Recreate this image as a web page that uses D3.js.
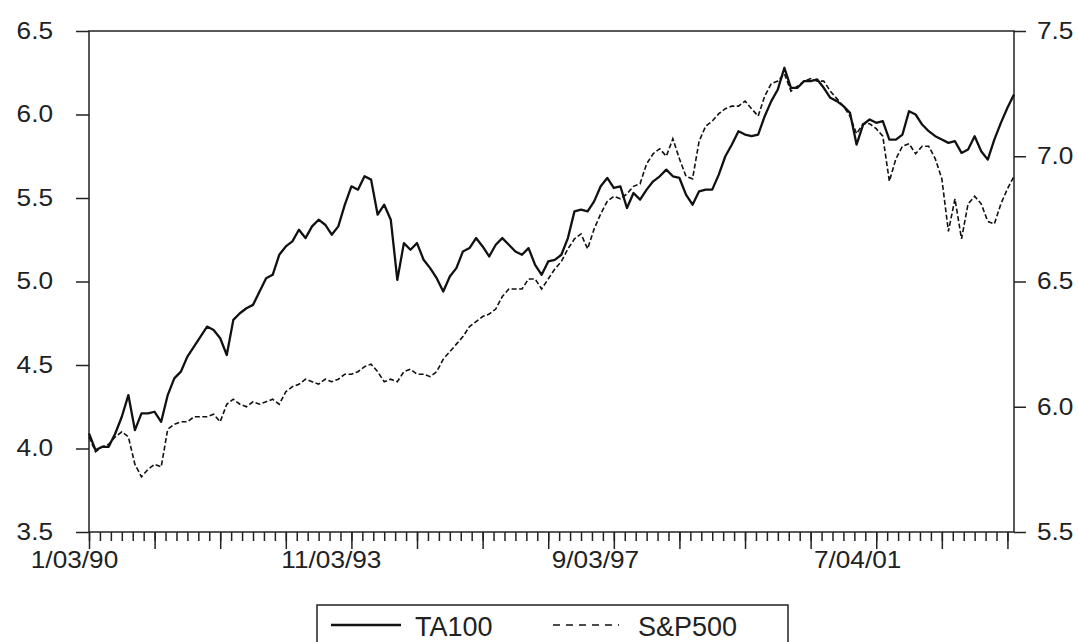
<!DOCTYPE html>
<html>
<head>
<meta charset="utf-8">
<script src="https://cdn.jsdelivr.net/npm/d3@7"></script>
<style>
  body { margin: 0; background: #fff; }
  svg { display: block; font-family: "Liberation Sans", Arial, sans-serif; }
  .axis text { fill: #222; font-size: 23px; }
  .axis line, .axis path { stroke: #222; stroke-width: 1.5; }
</style>
</head>
<body>
<script>
// log index levels, one reading every 24 trading days starting 1/03/90
var obsStep = 24;
var ta100 = [4.09, 3.99, 4.01, 4.01, 4.09, 4.19, 4.32, 4.11, 4.21, 4.21,
             4.22, 4.16, 4.32, 4.42, 4.46, 4.55, 4.61, 4.67, 4.73, 4.71,
             4.66, 4.56, 4.77, 4.81, 4.84, 4.86, 4.94, 5.02, 5.04, 5.16,
             5.21, 5.24, 5.31, 5.26, 5.33, 5.37, 5.34, 5.28, 5.33, 5.46,
             5.57, 5.55, 5.63, 5.61, 5.40, 5.46, 5.37, 5.01, 5.23, 5.19,
             5.23, 5.13, 5.08, 5.02, 4.94, 5.03, 5.08, 5.18, 5.20, 5.26,
             5.21, 5.15, 5.22, 5.26, 5.22, 5.18, 5.16, 5.20, 5.10, 5.04,
             5.12, 5.13, 5.16, 5.26, 5.42, 5.43, 5.42, 5.48, 5.57, 5.62,
             5.56, 5.57, 5.44, 5.53, 5.49, 5.55, 5.60, 5.63, 5.67, 5.63,
             5.62, 5.52, 5.46, 5.54, 5.55, 5.55, 5.64, 5.75, 5.82, 5.90,
             5.88, 5.87, 5.88, 5.99, 6.08, 6.15, 6.28, 6.16, 6.16, 6.20,
             6.20, 6.21, 6.16, 6.10, 6.08, 6.05, 6.01, 5.82, 5.94, 5.97,
             5.95, 5.96, 5.85, 5.85, 5.88, 6.02, 6.00, 5.94, 5.90, 5.87,
             5.85, 5.83, 5.84, 5.77, 5.79, 5.87, 5.78, 5.73, 5.85, 5.95,
             6.04, 6.12];
var sp500 = [5.88, 5.82, 5.84, 5.85, 5.88, 5.90, 5.88, 5.77, 5.72, 5.75,
             5.77, 5.76, 5.91, 5.93, 5.94, 5.94, 5.96, 5.96, 5.96, 5.97,
             5.94, 6.01, 6.03, 6.01, 6.00, 6.02, 6.01, 6.02, 6.03, 6.01,
             6.06, 6.08, 6.09, 6.11, 6.10, 6.09, 6.11, 6.10, 6.11, 6.13,
             6.13, 6.14, 6.16, 6.17, 6.14, 6.10, 6.11, 6.10, 6.14, 6.15,
             6.13, 6.13, 6.12, 6.14, 6.19, 6.22, 6.25, 6.28, 6.32, 6.34,
             6.36, 6.37, 6.39, 6.44, 6.47, 6.47, 6.47, 6.51, 6.51, 6.47,
             6.51, 6.55, 6.58, 6.63, 6.67, 6.69, 6.63, 6.71, 6.77, 6.82,
             6.84, 6.83, 6.85, 6.88, 6.89, 6.97, 7.01, 7.03, 7.00, 7.07,
             6.99, 6.92, 6.91, 7.06, 7.12, 7.14, 7.17, 7.19, 7.20, 7.20,
             7.22, 7.19, 7.16, 7.24, 7.29, 7.30, 7.33, 7.26, 7.28, 7.30,
             7.31, 7.30, 7.30, 7.26, 7.23, 7.20, 7.16, 7.09, 7.13, 7.13,
             7.11, 7.08, 6.90, 6.99, 7.04, 7.05, 7.01, 7.04, 7.04, 6.99,
             6.91, 6.70, 6.83, 6.67, 6.81, 6.84, 6.81, 6.74, 6.73, 6.81,
             6.87, 6.92];

var leftTicks = [3.5, 4.0, 4.5, 5.0, 5.5, 6.0, 6.5];
var rightTicks = [5.5, 6.0, 6.5, 7.0, 7.5];
var dateLabels = ["1/03/90", "11/03/93", "9/03/97", "7/04/01"];
var dateLabelObs = [0, 885, 1851, 2810];
var seriesNames = ["TA100", "S&P500"];

var W = 1078, H = 642;
var plotL = 89, plotR = 1014, plotT = 31, plotB = 532;
var stretch = 1.14;
var lastObs = (ta100.length - 1) * obsStep;

var svg = d3.select('body').append('svg').attr('width', W).attr('height', H);

var x = d3.scaleLinear().domain([0, lastObs]).range([plotL, plotR]);
var yL = d3.scaleLinear().domain([3.5, 6.5]).range([plotB, plotT]);
var yR = d3.scaleLinear().domain([5.5, 7.5]).range([plotB, plotT]);

// x ticks: major every 240 obs, minor every 40
svg.append('g').attr('class', 'axis')
  .attr('transform', 'translate(0,' + plotB + ')')
  .call(d3.axisBottom(x).tickValues(d3.range(0, lastObs, 40)).tickSize(9).tickFormat(''))
  .select('.domain').remove();
svg.append('g').attr('class', 'axis')
  .attr('transform', 'translate(0,' + plotB + ')')
  .call(d3.axisBottom(x).tickValues(d3.range(0, lastObs, 240)).tickSize(17).tickFormat(''))
  .select('.domain').remove();

var xlab = svg.append('g').attr('class', 'axis')
  .attr('transform', 'translate(0,' + plotB + ')')
  .call(d3.axisBottom(x).tickValues(dateLabelObs).tickSize(0).tickPadding(20)
    .tickFormat(function(d, i) { return dateLabels[i]; }));
xlab.select('.domain').remove();
xlab.selectAll('text')
  .attr('transform', 'scale(' + stretch + ',1)')
  .attr('dx', function(d, i) { return i == 0 ? -15 / stretch : 0; });

var la = svg.append('g').attr('class', 'axis')
  .attr('transform', 'translate(' + plotL + ',0)')
  .call(d3.axisLeft(yL).tickValues(leftTicks).tickFormat(d3.format('.1f'))
    .tickSize(13).tickSizeOuter(0).tickPadding(23));
la.select('.domain').remove();
la.selectAll('text').attr('transform', 'scale(' + stretch + ',1)').attr('x', -36 / stretch);

var ra = svg.append('g').attr('class', 'axis')
  .attr('transform', 'translate(' + plotR + ',0)')
  .call(d3.axisRight(yR).tickValues(rightTicks).tickFormat(d3.format('.1f'))
    .tickSize(12).tickSizeOuter(0).tickPadding(11));
ra.select('.domain').remove();
ra.selectAll('text').attr('transform', 'scale(' + stretch + ',1)').attr('x', 23 / stretch);

// frame
svg.append('rect')
  .attr('x', plotL).attr('y', plotT)
  .attr('width', plotR - plotL).attr('height', plotB - plotT)
  .attr('fill', 'none').attr('stroke', '#222').attr('stroke-width', 1.5);

var lineL = d3.line().x(function(d, i) { return x(i * obsStep); }).y(function(d) { return yL(d); });
var lineR = d3.line().x(function(d, i) { return x(i * obsStep); }).y(function(d) { return yR(d); });

svg.append('path').datum(sp500)
  .attr('d', lineR)
  .attr('fill', 'none').attr('stroke', '#111').attr('stroke-width', 1.6)
  .attr('stroke-dasharray', '5,2.5');

svg.append('path').datum(ta100)
  .attr('d', lineL)
  .attr('fill', 'none').attr('stroke', '#111').attr('stroke-width', 2.3)
  .attr('stroke-linejoin', 'round');

// legend
var lg = svg.append('g').attr('transform', 'translate(317,605)');
lg.append('rect').attr('width', 471).attr('height', 50)
  .attr('fill', '#fff').attr('stroke', '#222').attr('stroke-width', 1.5);
lg.append('line').attr('x1', 14).attr('x2', 84).attr('y1', 20).attr('y2', 20)
  .attr('stroke', '#111').attr('stroke-width', 2.3);
lg.append('text').attr('x', 98).attr('y', 31).text(seriesNames[0])
  .attr('font-size', 27).attr('fill', '#222');
lg.append('line').attr('x1', 236).attr('x2', 302).attr('y1', 20).attr('y2', 20)
  .attr('stroke', '#111').attr('stroke-width', 1.6).attr('stroke-dasharray', '7,6');
lg.append('text').attr('x', 321).attr('y', 31).text(seriesNames[1])
  .attr('font-size', 27).attr('fill', '#222');
</script>
</body>
</html>
